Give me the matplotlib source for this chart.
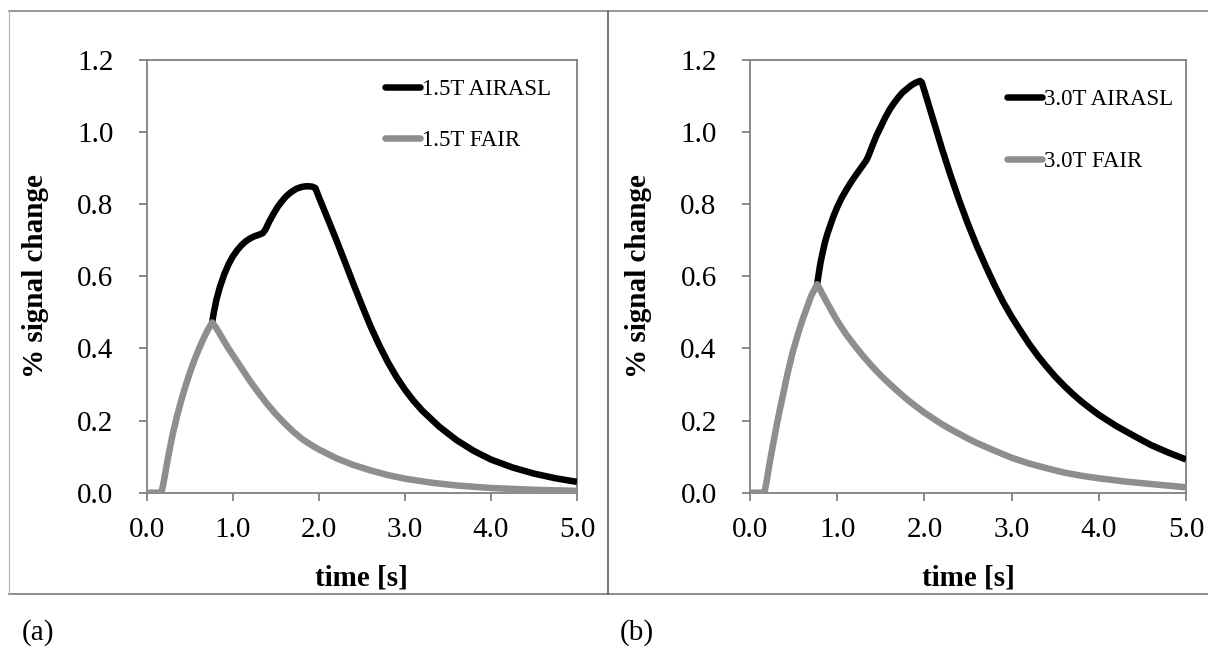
import matplotlib
matplotlib.use('Agg')
import matplotlib.pyplot as plt
from matplotlib.lines import Line2D

plt.rcParams['font.family'] = ['Liberation Serif', 'DejaVu Serif']

# ---------------- data ----------------
# Panel (a) 1.5T
t_fair15 = [0.0, 0.17, 0.19, 0.22, 0.25, 0.30, 0.35, 0.40, 0.45, 0.50, 0.55, 0.60, 0.65, 0.70, 0.76,
            0.80, 0.85, 0.90, 0.95, 1.00, 1.05, 1.10, 1.15, 1.20, 1.30, 1.40, 1.50, 1.60, 1.70,
            1.80, 1.90, 2.00, 2.20, 2.40, 2.60, 2.80, 3.00, 3.30, 3.60, 4.00, 4.50, 5.00]
v_fair15 = [0.0, 0.0, 0.02, 0.06, 0.10, 0.16, 0.21, 0.255, 0.295, 0.332, 0.365, 0.395, 0.422, 0.447, 0.472,
            0.46, 0.44, 0.42, 0.40, 0.382, 0.364, 0.346, 0.328, 0.31, 0.277, 0.246, 0.218, 0.193, 0.17,
            0.15, 0.134, 0.12, 0.096, 0.077, 0.062, 0.049, 0.039, 0.028, 0.020, 0.013, 0.008, 0.005]

t_air15 = [0.76, 0.78, 0.81, 0.85, 0.90, 0.95, 1.00, 1.05, 1.10, 1.15, 1.20, 1.25, 1.30, 1.35,
           1.38, 1.42, 1.47, 1.52, 1.57, 1.62, 1.68, 1.74, 1.80, 1.86, 1.92, 1.96, 2.00, 2.10,
           2.20, 2.30, 2.40, 2.50, 2.60, 2.70, 2.80, 2.90, 3.00, 3.10, 3.20, 3.40, 3.60, 3.80,
           4.00, 4.25, 4.50, 4.75, 5.00]
v_air15 = [0.472, 0.50, 0.535, 0.57, 0.605, 0.633, 0.655, 0.672, 0.686, 0.697, 0.705, 0.711, 0.715, 0.72,
           0.73, 0.75, 0.772, 0.792, 0.808, 0.822, 0.834, 0.843, 0.848, 0.85, 0.849, 0.845, 0.82, 0.762,
           0.703, 0.642, 0.58, 0.52, 0.462, 0.41, 0.363, 0.322, 0.286, 0.255, 0.228, 0.183, 0.146, 0.116,
           0.092, 0.070, 0.053, 0.040, 0.030]

# Panel (b) 3.0T
t_fair30 = [0.0, 0.165, 0.19, 0.22, 0.26, 0.30, 0.34, 0.375, 0.43, 0.49, 0.55, 0.60, 0.645, 0.70, 0.77,
            0.80, 0.85, 0.90, 0.95, 1.00, 1.10, 1.20, 1.30, 1.41, 1.50, 1.60, 1.70, 1.80, 1.90,
            2.00, 2.10, 2.20, 2.30, 2.40, 2.50, 2.60, 2.80, 3.00, 3.20, 3.40, 3.60, 3.80, 4.00,
            4.30, 4.60, 5.00]
v_fair30 = [0.0, 0.0, 0.03, 0.075, 0.128, 0.18, 0.228, 0.267, 0.33, 0.39, 0.44, 0.478, 0.508, 0.545, 0.578,
            0.565, 0.542, 0.52, 0.498, 0.477, 0.44, 0.408, 0.378, 0.348, 0.325, 0.302, 0.28, 0.259, 0.24,
            0.222, 0.206, 0.19, 0.176, 0.163, 0.15, 0.138, 0.117, 0.097, 0.081, 0.068, 0.056, 0.047, 0.040,
            0.031, 0.024, 0.015]

t_air30 = [0.77, 0.79, 0.81, 0.835, 0.86, 0.89, 0.95, 1.00, 1.05, 1.10, 1.15, 1.20, 1.25, 1.30,
           1.335, 1.36, 1.40, 1.45, 1.50, 1.55, 1.60, 1.65, 1.70, 1.75, 1.80, 1.85, 1.90, 1.95,
           1.97, 2.00, 2.10, 2.20, 2.30, 2.40, 2.50, 2.60, 2.70, 2.80, 2.90, 3.00, 3.10, 3.20,
           3.30, 3.40, 3.50, 3.60, 3.70, 3.80, 3.90, 4.00, 4.20, 4.40, 4.60, 4.80, 5.00]
v_air30 = [0.578, 0.61, 0.64, 0.668, 0.695, 0.72, 0.762, 0.792, 0.817, 0.838, 0.858, 0.876, 0.893, 0.91,
           0.922, 0.935, 0.96, 0.99, 1.015, 1.04, 1.062, 1.08, 1.096, 1.11, 1.12, 1.13, 1.137, 1.142,
           1.138, 1.115, 1.035, 0.955, 0.88, 0.81, 0.745, 0.685, 0.63, 0.578, 0.53, 0.488, 0.45, 0.413,
           0.38, 0.35, 0.322, 0.297, 0.274, 0.253, 0.234, 0.216, 0.185, 0.158, 0.132, 0.111, 0.092]

labels_a = ['1.5T AIRASL', '1.5T FAIR']
labels_b = ['3.0T AIRASL', '3.0T FAIR']
xticks = [0, 1, 2, 3, 4, 5]
yticks = [0.0, 0.2, 0.4, 0.6, 0.8, 1.0, 1.2]
xlabel = 'time [s]'
ylabel = '% signal change'
panel_labels = ['(a)', '(b)']

# ---------------- layout ----------------
W, H = 1208, 648
fig = plt.figure(figsize=(W / 100, H / 100), dpi=100)


def fx(px):
    return px / W


def fy(py):
    return 1 - py / H


ax_top, ax_bot = 60.0, 492.7
ax1 = fig.add_axes([fx(146.7), fy(ax_bot), (577 - 146.7) / W, (ax_bot - ax_top) / H])
ax2 = fig.add_axes([fx(750), fy(ax_bot), (1186 - 750) / W, (ax_bot - ax_top) / H])

BLACK = '#000000'
GRAY = '#8e8e8e'
SPINE = '#808080'
LW = 4.7


def style(ax, t_air, v_air, t_fair, v_fair, labels, leg_anchor, leg_spacing, ylab_x):
    l1, = ax.plot(t_air, v_air, color=BLACK, lw=LW, solid_capstyle='butt',
                  solid_joinstyle='round', zorder=3)
    l2, = ax.plot(t_fair, v_fair, color=GRAY, lw=LW, solid_capstyle='butt',
                  solid_joinstyle='round', zorder=4)
    ax.set_xlim(0, 5)
    ax.set_ylim(0, 1.2)
    ax.set_xticks(xticks)
    ax.set_xticklabels([f'{v:.1f}' for v in xticks])
    ax.set_yticks(yticks)
    ax.set_yticklabels([f'{v:.1f}' for v in yticks])
    for s in ax.spines.values():
        s.set_color(SPINE)
        s.set_linewidth(1.3)
    ax.tick_params(axis='both', direction='out', length=6, width=1.3, color=SPINE,
                   labelsize=21, labelcolor='black')
    ax.tick_params(axis='y', pad=18)
    ax.tick_params(axis='x', pad=11.5)
    ax.set_xlabel(xlabel, fontsize=21, fontweight='bold')
    ax.xaxis.set_label_coords(0.5, (ax_bot - 578) / (ax_bot - ax_top))
    ax.xaxis.label.set_va('center')
    ax.set_ylabel(ylabel, fontsize=21, fontweight='bold')
    ax.yaxis.set_label_coords(ylab_x, 0.5)
    ax.yaxis.label.set_va('center')
    leg = ax.legend([l1, l2], labels, loc='upper left', bbox_to_anchor=leg_anchor,
                    frameon=False, borderpad=0, borderaxespad=0, handlelength=1.52,
                    handletextpad=0.1, labelspacing=leg_spacing, fontsize=16.5)
    for h in leg.get_lines():
        h.set_linewidth(LW)
        h.set_solid_capstyle('round')


style(ax1, t_air15, v_air15, t_fair15, v_fair15, labels_a, (0.554, 0.956), 1.30,
      (35.5 - 146.7) / (577 - 146.7))
style(ax2, t_air30, v_air30, t_fair30, v_fair30, labels_b, (0.589, 0.933), 1.78,
      (638.5 - 750) / (1186 - 750))

# panel frames
frame_top, frame_bot, frame_left, divider = 10.7, 594.3, 9.3, 608.3
fig.add_artist(Line2D([fx(frame_left), 1.0], [fy(frame_top), fy(frame_top)],
                      color='#858585', lw=1.2))
fig.add_artist(Line2D([fx(frame_left), 1.0], [fy(frame_bot), fy(frame_bot)],
                      color='#8a8a8a', lw=1.4))
fig.add_artist(Line2D([fx(frame_left), fx(frame_left)], [fy(frame_top), fy(frame_bot)],
                      color='#b5b5b5', lw=0.9))
fig.add_artist(Line2D([fx(divider), fx(divider)], [fy(frame_top), fy(frame_bot)],
                      color='#6a6a6a', lw=1.3))

fig.text(fx(21.7), fy(633), panel_labels[0], fontsize=21, ha='left', va='center')
fig.text(fx(620), fy(633), panel_labels[1], fontsize=21, ha='left', va='center')

fig.savefig('out.png', dpi=100)
